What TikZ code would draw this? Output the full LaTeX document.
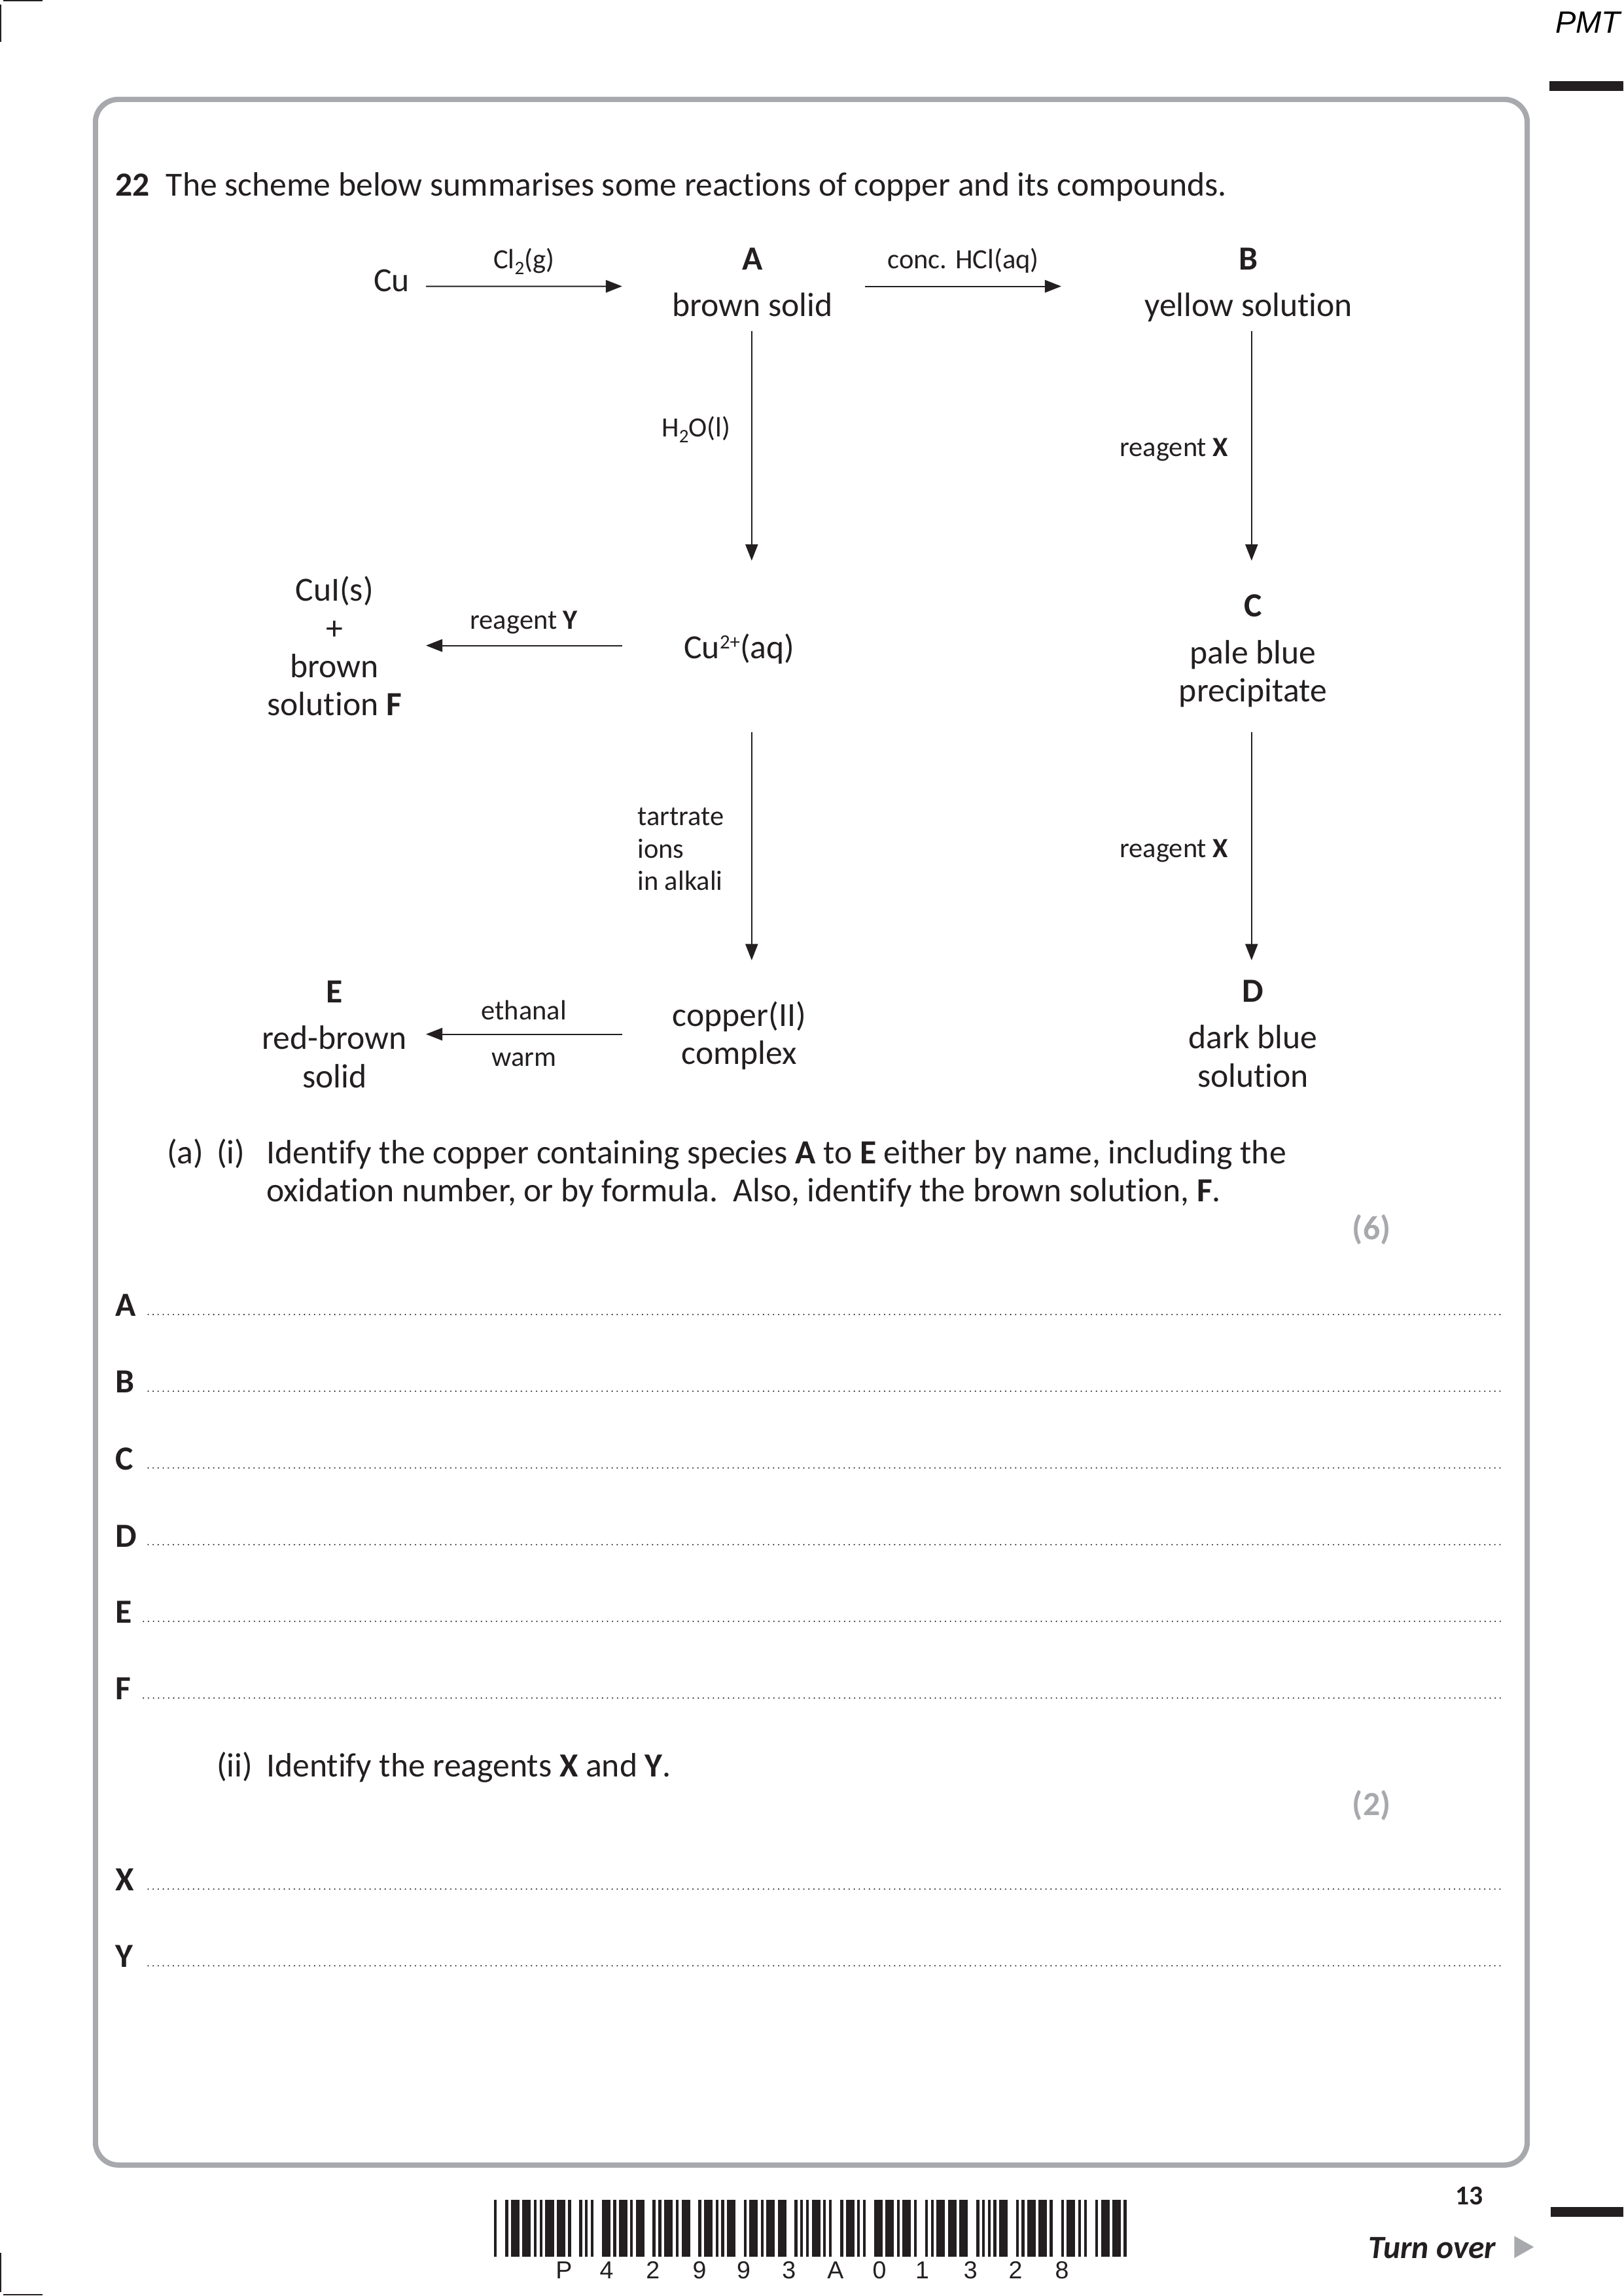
\documentclass[tikz,border=0pt]{standalone}
\usepackage{fontspec}
\usetikzlibrary{arrows.meta}
\setmainfont[Ligatures=NoCommon]{Carlito}
\newfontfamily\arialf{Liberation Sans}
\definecolor{ink}{HTML}{231F20}
\definecolor{framegrey}{HTML}{A7A9AC}
\newcommand{\bigf}{\fontsize{12.4}{14}\selectfont}
\newcommand{\smallf}{\fontsize{10.2}{11.8}\selectfont}
\newcommand{\lowtwo}{\raisebox{-2.2pt}{\fontsize{7}{7}\selectfont 2}}
\newcommand{\uptwo}{\raisebox{3.6pt}{\fontsize{7.4}{7}\selectfont 2+}}
\tikzset{
  every node/.style={inner sep=0pt,outer sep=0pt,text=ink},
  big/.style={font=\bigf,anchor=base,align=center},
  bigl/.style={font=\bigf,anchor=base west,align=left},
  small/.style={font=\smallf,anchor=base,align=center},
  smalll/.style={font=\smallf,anchor=base west,align=left},
  marks/.style={font=\bigf\bfseries,anchor=base east,text=framegrey},
  arr/.style={draw=ink,line width=0.45pt,-{Triangle[length=6pt,width=4.6pt]}},
  dots/.style={draw=ink,line width=0.55pt,line cap=round,dash pattern=on 0pt off 1.85pt},
  regmark/.style={draw=ink,line width=0.5pt},
  bar/.style={fill=ink,draw=none},
}
\begin{document}
\begin{tikzpicture}[x=0.5369pt,y=-0.5369pt]
\useasboundingbox (0,0) rectangle (1109,1568.5);
% frame and page marks
\draw[framegrey,line width=1.95pt,rounded corners=8.4pt] (65.2,67.9) rectangle (1043.3,1479);
\fill[ink] (1058.5,55.4) rectangle (1109,62.1);
\fill[ink] (1059.5,1507.7) rectangle (1109,1514.4);
\draw[regmark] (2.2,0.4) -- (29,0.4);
\draw[regmark] (0.4,3) -- (0.4,28.5);
\draw[regmark] (0.4,1539) -- (0.4,1566);
\draw[regmark] (2.2,1567.5) -- (29,1567.5);
\node[anchor=base east,font=\arialf\itshape\fontsize{11.3}{12}\selectfont,text=black] (pmt) at (1107,22.4) {PMT};
% title
\node[bigl] (qnum) at (79,134) {\textbf{22}};
\node[bigl] (title) at (113.5,134) {The scheme below summarises some reactions of copper and its compounds.};
% scheme nodes (base = baseline of the last line)
\node[big] (Cu) at (267.5,199) {Cu};
\node[big] (A) at (514,216.3) {\textbf{A}\\[3.2pt]brown solid};
\node[big] (B) at (853,216.3) {\textbf{B}\\[3.2pt]yellow solution};
\node[big] (Cuaq) at (505,450) {Cu\uptwo(aq)};
\node[big] (C) at (856,479.5) {\textbf{C}\\[3.2pt]pale blue\\precipitate};
\node[big] (CuI) at (228.5,489) {CuI(s)\\+\\brown\\solution \textbf{F}};
\node[big] (complex) at (505,727) {copper(II)\\complex};
\node[big] (D) at (856,742.5) {\textbf{D}\\[3.2pt]dark blue\\solution};
\node[big] (E) at (228.5,743) {\textbf{E}\\[3.2pt]red-brown\\solid};
% connectors
\draw[arr] ([shift={(23.5,-3.4)}]Cu.base) -- ([shift={(-89,-20.7)}]A.base);
\draw[arr] ([shift={(77,-20.7)}]A.base) -- ([shift={(-128,-20.7)}]B.base);
\draw[arr] ([shift={(-0.5,9.7)}]A.base) -- ([shift={(8.5,-67)}]Cuaq.base);
\draw[arr] ([shift={(2,9.7)}]B.base) -- ([shift={(-1,-96.5)}]C.base);
\draw[arr] ([shift={(-80,-9)}]Cuaq.base) -- ([shift={(62.5,-48)}]CuI.base);
\draw[arr] ([shift={(8.5,50)}]Cuaq.base) -- ([shift={(8.5,-71)}]complex.base);
\draw[arr] ([shift={(-1,20.5)}]C.base) -- ([shift={(-1,-86.5)}]D.base);
\draw[arr] ([shift={(-80,-20.5)}]complex.base) -- ([shift={(62.5,-36.5)}]E.base);
% connector labels
\node[small] (l1) at (358,183.5) {Cl\lowtwo(g)};
\node[small] (l2) at (658,183.5) {conc. HCl(aq)};
\node[small] (l3) at (475.5,298.5) {H\lowtwo O(l)};
\node[small] (l4) at (802,312) {reagent \textbf{X}};
\node[small] (l5) at (358,430) {reagent \textbf{Y}};
\node[smalll] (l6) at (435.5,608) {tartrate\\ions\\in alkali};
\node[small] (l7) at (802,586) {reagent \textbf{X}};
\node[small] (l8) at (358,696.5) {ethanal};
\node[small] (l9) at (358,728.5) {warm};
% part (a)(i)
\node[bigl] (pa) at (114,795) {(a)};
\node[bigl] (pi) at (148,795) {(i)};
\node[bigl] (ptext) at (182,821) {Identify the copper containing species \textbf{A} to \textbf{E} either by name, including the\\oxidation number, or by formula.\ \ Also, identify the brown solution, \textbf{F}.};
\node[marks] (m6) at (950,847) {(6)};
% answer lines
\node[bigl,font=\bigf\bfseries] (aA) at (79,899) {A};
\node[bigl,font=\bigf\bfseries] (aB) at (79,951.4) {B};
\node[bigl,font=\bigf\bfseries] (aC) at (79,1004.3) {C};
\node[bigl,font=\bigf\bfseries] (aD) at (79,1056.7) {D};
\node[bigl,font=\bigf\bfseries] (aE) at (79,1108.6) {E};
\node[bigl,font=\bigf\bfseries] (aF) at (79,1161) {F};
\draw[dots] (101.2,898) -- (1025,898);
\draw[dots] (101.2,950.4) -- (1025,950.4);
\draw[dots] (101.2,1002.8) -- (1025,1002.8);
\draw[dots] (101.2,1055.2) -- (1025,1055.2);
\draw[dots] (98,1107.6) -- (1025,1107.6);
\draw[dots] (98,1160) -- (1025,1160);
% part (ii)
\node[bigl] (pii) at (148,1214) {(ii)};
\node[bigl] (piitext) at (182,1214) {Identify the reagents \textbf{X} and \textbf{Y}.};
\node[marks] (m2) at (950,1240) {(2)};
\node[bigl,font=\bigf\bfseries] (aX) at (79,1291.5) {X};
\node[bigl,font=\bigf\bfseries] (aY) at (79,1344) {Y};
\draw[dots] (101.2,1290.5) -- (1025,1290.5);
\draw[dots] (101.2,1342.9) -- (1025,1342.9);
% footer
\node[anchor=base,font=\fontsize{10}{12}\selectfont\bfseries] (pageno) at (1003.6,1506) {13};
\node[anchor=base east,font=\fontsize{11.9}{14}\selectfont\bfseries\itshape] (turn) at (1022,1543) {Turn over};
\fill[framegrey] (1034.5,1527.5) -- (1047.8,1535) -- (1034.5,1542.6) -- cycle;
% barcode (coordinates: 1/3 pixel of the reference)
\begin{scope}[x=0.08pt,y=-0.24pt,shift={(180pt,-806.88pt)}]
\foreach \a/\b in {15/28,66/80,93/131,144/184,197/210,224/237,250/290,303/342,355/368,406/420,433/445,458/471,510/550,562/576,588/627,640/652,665/704,742/756,769/782,795/834,849/862,875/914,952/966,979/1018,1031/1044,1057/1070,1082/1122,1160/1172,1186/1225,1238/1251,1264/1303,1316/1355,1393/1407,1419/1432,1445/1458,1472/1511}
  \fill[bar] (\a,0) rectangle (\b,86.5);
\foreach \a/\b in {54/67,80/93,132/146,158/197,210/223,236/249,288/327,340/379,392/405,418/457,470/482,522/534,548/560,574/613,627/666,678/717,757/770,783/796,809/822,835/848,860/899,938/950,964/977,990/1028,1041/1080,1093/1106,1145/1158,1171/1210,1223/1236,1250/1263,1302/1315,1328/1367,1380/1420,1432/1445}
  \fill[bar] (\a+1470,0) rectangle (\b+1470,86.5);
\end{scope}
\foreach \c/\px [count=\i from 0] in {P/385.3,4/414.4,2/446,9/477.9,9/508,3/539,A/570.8,0/600.8,1/630,3/663,2/693.7,8/725.5}
  \node[anchor=base,font=\arialf\fontsize{9}{10}\selectfont] (bc\i) at (\px,1556.5) {\c};
\end{tikzpicture}
\end{document}
